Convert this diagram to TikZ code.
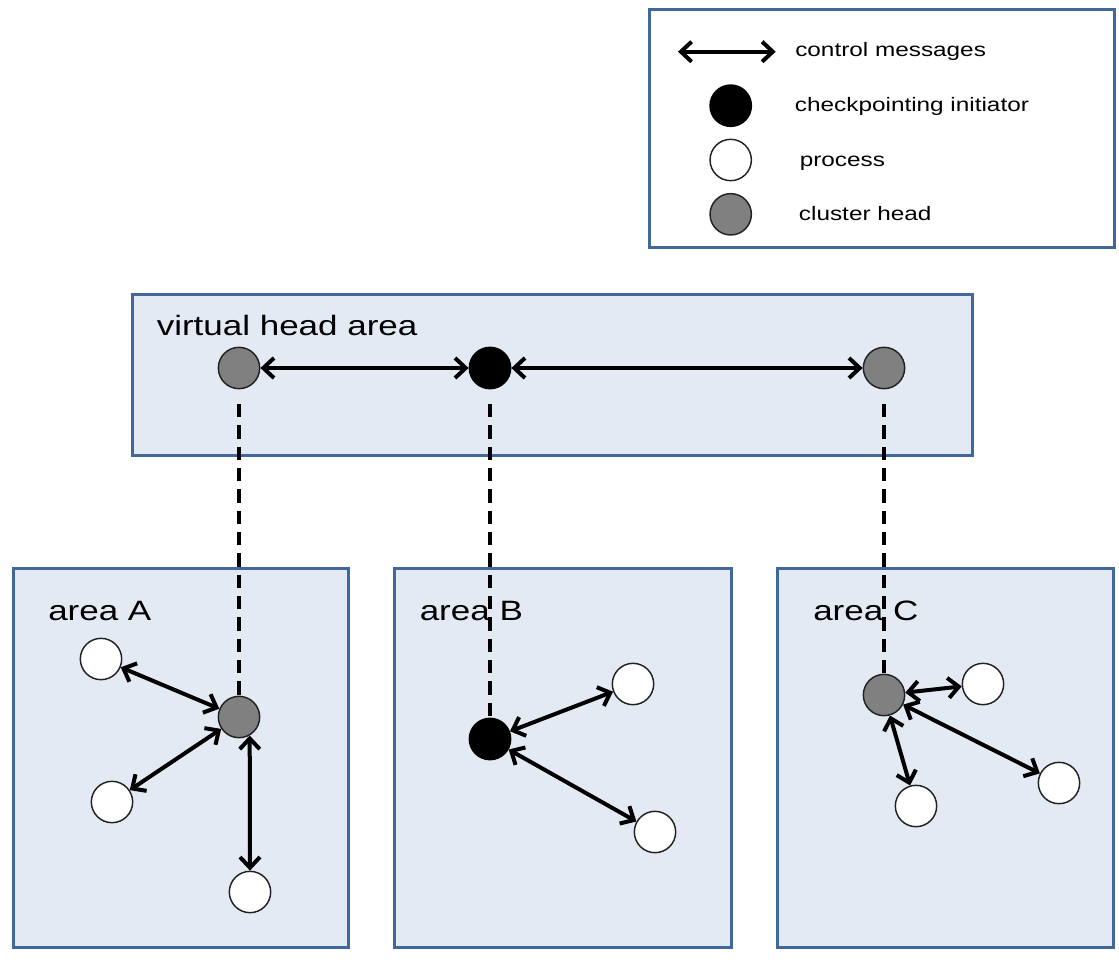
\documentclass[tikz,border=0pt]{standalone}
\usepackage{fontspec}
\setmainfont{Liberation Sans}[FakeStretch=1.25]
\usetikzlibrary{arrows.meta}

\definecolor{areablue}{RGB}{65,104,155}
\definecolor{areafill}{RGB}{227,234,244}
\definecolor{headgray}{RGB}{128,128,128}
\definecolor{rim}{RGB}{34,34,34}

\begin{document}
\begin{tikzpicture}[x=0.75pt,y=0.75pt,yscale=-1,xscale=1,
  area/.style={draw=areablue, fill=areafill, line width=2.25pt},
  legendbox/.style={draw=areablue, fill=white, line width=2.25pt},
  proc/.style={circle, draw=rim, fill=white, line width=1.1pt, minimum size=31pt, inner sep=0pt},
  head/.style={proc, fill=headgray},
  init/.style={proc, fill=black, draw=black},
  msg/.style={line width=3pt, {Straight Barb[length=8pt,width=15pt]}-{Straight Barb[length=8pt,width=15pt]}},
  link/.style={line width=2.6pt, dash pattern=on 10pt off 6pt, shorten <=11pt},
  biglabel/.style={anchor=base west, inner sep=0pt, font=\fontsize{21}{25}\selectfont},
  keylabel/.style={anchor=base west, inner sep=0pt, font=\fontsize{14.6}{17}\selectfont}]
\useasboundingbox (0,0) rectangle (1119,959);

%Shape: Rectangle [legend]
\draw [legendbox] (649,10) rectangle (1114,247);
%Shape: Rectangle [virtual head area]
\draw [area] (132,294) rectangle (972,455);
%Shape: Rectangle [area A]
\draw [area] (13,568) rectangle (348,947);
%Shape: Rectangle [area B]
\draw [area] (394,568) rectangle (731,947);
%Shape: Rectangle [area C]
\draw [area] (777,568) rectangle (1113,947);

% Legend
\coordinate (keyL) at (678,51.7);
\coordinate (keyR) at (775.7,51.7);
\draw [msg] (keyL) -- (keyR);
\node [init] (keyInit) at (730.7,105.7) {};
\node [proc] (keyProc) at (730.7,160) {};
\node [head] (keyHead) at (730.7,214.3) {};
% Text Node
\node [keylabel] (txtMsg) at (795,56.7) {control messages};
% Text Node
\node [keylabel] (txtInit) at (794.7,111.5) {checkpointing initiator};
% Text Node
\node [keylabel] (txtProc) at (799.5,166.5) {process};
% Text Node
\node [keylabel] (txtHead) at (798.7,220.5) {cluster head};

% Virtual head area
\node [head] (vA) at (239,368) {};
\node [init] (vB) at (490,368) {};
\node [head] (vC) at (884,368) {};
% Text Node
\node [biglabel] (txtVirtual) at (156.5,335) {virtual head area};

% Area A
\node [head] (hA) at (239,717) {};
\node [proc] (pA1) at (101,659) {};
\node [proc] (pA2) at (112,802) {};
\node [proc] (pA3) at (250,892) {};
% Text Node
\node [biglabel] (txtA) at (48,620) {area A};

% Area B
\node [init] (hB) at (490,739) {};
\node [proc] (pB1) at (633,684) {};
\node [proc] (pB2) at (655,832) {};
% Text Node
\node [biglabel] (txtB) at (419.5,620) {area B};

% Area C
\node [head] (hC) at (884,695) {};
\node [proc] (pC1) at (983,684) {};
\node [proc] (pC2) at (1059,783) {};
\node [proc] (pC3) at (916,806) {};
% Text Node
\node [biglabel] (txtC) at (813,620) {area C};

%Straight Lines [control messages]
\draw [msg] (vA) -- (vB);
\draw [msg] (vB) -- (vC);
\draw [msg] (pA1) -- (hA);
\draw [msg] (pA2) -- (hA);
\draw [msg] (hA.-60) -- (pA3.north);
\draw [msg] (hB) -- (pB1);
\draw [msg] (hB) -- (pB2);
\draw [msg] (hC) -- (pC1);
\draw [msg] (hC) -- (pC2);
\draw [msg] (hC) -- (pC3);

%Straight Lines [dashed links]
\draw [link] (vA) -- (hA);
\draw [link] (vB) -- (hB);
\draw [link] (vC) -- (hC);

\end{tikzpicture}
\end{document}
